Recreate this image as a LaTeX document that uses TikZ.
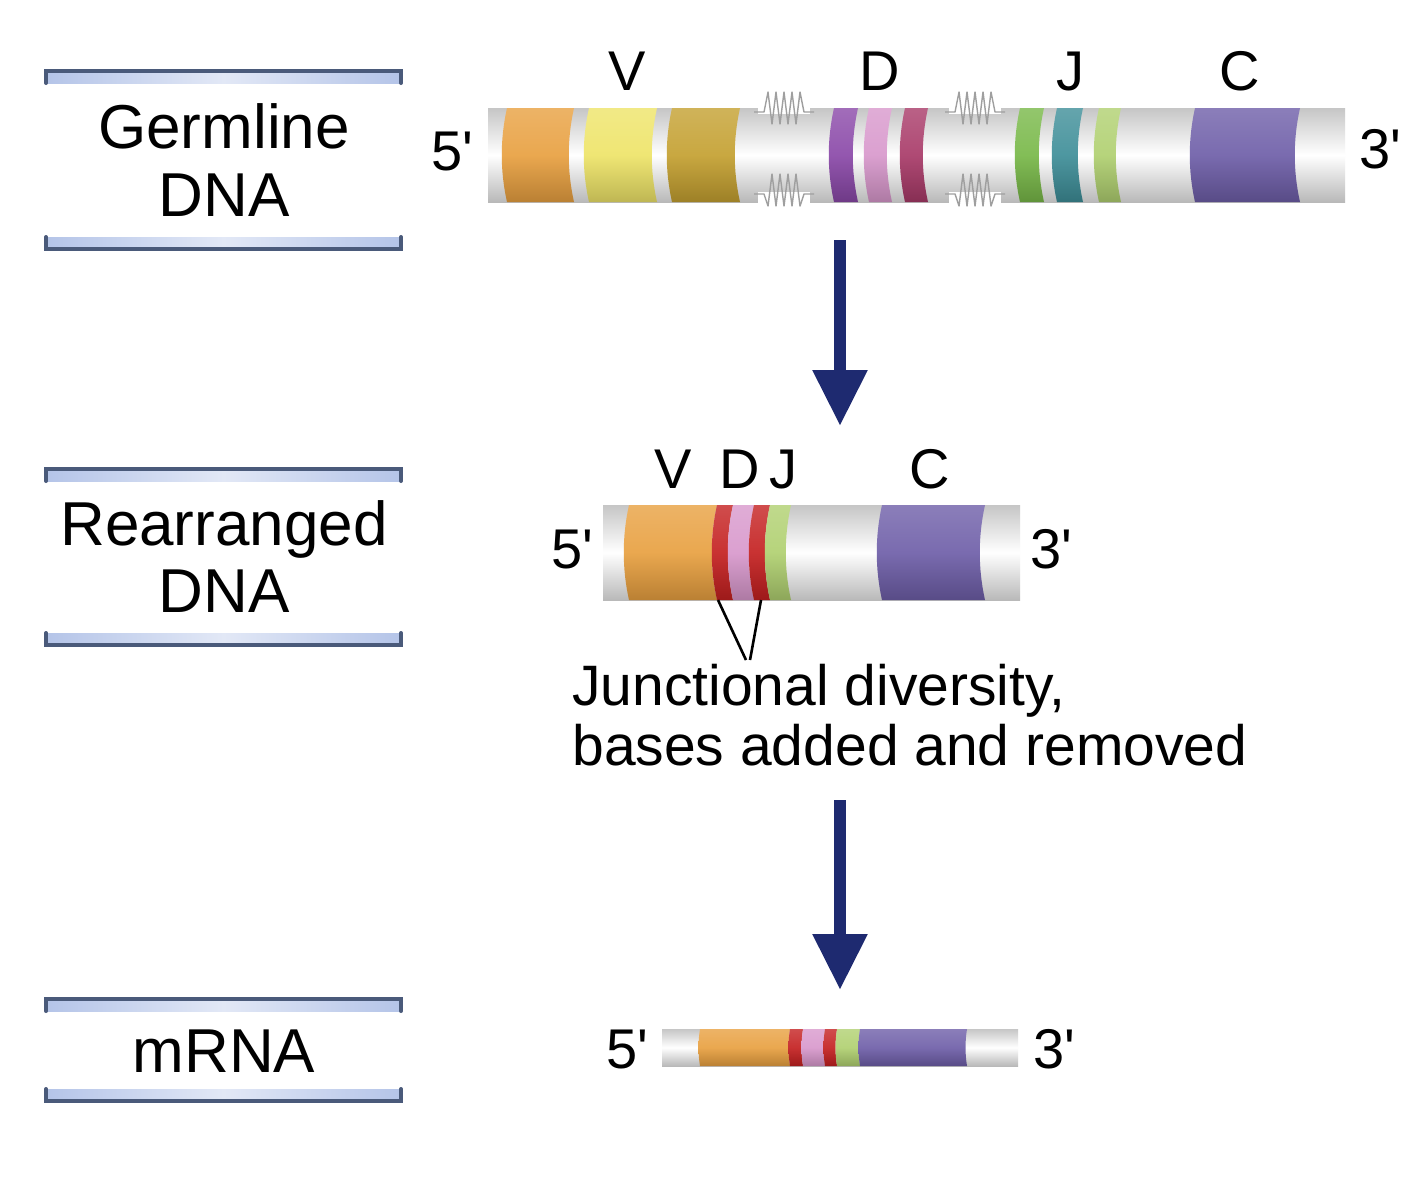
\documentclass[tikz,border=0pt]{standalone}
\usepackage{fontspec}
\setmainfont{Liberation Sans}
\usetikzlibrary{arrows.meta}
\definecolor{cOrange}{HTML}{E8A040}
\definecolor{cYellow}{HTML}{EEE468}
\definecolor{cOlive}{HTML}{C4A030}
\definecolor{cDpurple}{HTML}{8A48A8}
\definecolor{cDpink}{HTML}{D898CC}
\definecolor{cDmag}{HTML}{A83A68}
\definecolor{cJgreen}{HTML}{78B848}
\definecolor{cJteal}{HTML}{3E8E98}
\definecolor{cJlight}{HTML}{B0D070}
\definecolor{cCpurple}{HTML}{6E5EA8}
\definecolor{cRed}{HTML}{C42020}
\definecolor{cNavy}{HTML}{1E2A70}
\definecolor{cBarLine}{HTML}{4A5A7A}
\definecolor{cBarFill}{HTML}{B4C4E8}
\definecolor{cBarMid}{HTML}{E2E8F6}
\newcommand\myq{\textquotesingle}
\newcommand\myband[6]{%
  \pgfmathsetmacro\myBandA{#3+(#4-#3)/3}%
  \pgfmathsetmacro\myBandB{#3+2*(#4-#3)/3}%
  \pgfmathsetmacro\myBandL{#1-#6}%
  \pgfmathsetmacro\myBandR{#2-#6}%
  \shade[top color=#5!80!white, bottom color=#5!80!black, middle color=#5!92!white]
    (#1,#3) .. controls (\myBandL,\myBandA) and (\myBandL,\myBandB) .. (#1,#4)
    -- (#2,#4) .. controls (\myBandR,\myBandB) and (\myBandR,\myBandA) .. (#2,#3) -- cycle;}
\newcommand\mystrand[4]{%
  \shade[top color=gray!45, bottom color=gray!55, middle color=white] (#1,#3) rectangle (#2,#4);}
\newcommand\mytopbar[1]{%
  \shade[left color=cBarFill, right color=cBarFill, middle color=cBarMid] (45,#1) rectangle (402,#1+12);
  \draw[barline] (46,#1+12) -- (46,#1) -- (401,#1) -- (401,#1+12);}
\newcommand\mybotbar[1]{%
  \shade[left color=cBarFill, right color=cBarFill, middle color=cBarMid] (45,#1-12) rectangle (402,#1);
  \draw[barline] (46,#1-12) -- (46,#1) -- (401,#1) -- (401,#1-12);}
\newcommand\myzig[1]{%
  \fill[white] (#1-6,96) rectangle (#1+46,114);
  \fill[white] (#1-6,192) rectangle (#1+46,210);
  \draw[zz] (#1-10,112) -- (#1,112) -- ++(4,-20) -- ++(4,32) -- ++(4,-32) -- ++(4,32) -- ++(4,-32) -- ++(4,32) -- ++(4,-32) -- ++(4,32) -- ++(4,-32) -- ++(4,20) -- ++(10,0);
  \draw[zz] (#1-10,194) -- (#1,194) -- ++(4,12) -- ++(4,-32) -- ++(4,32) -- ++(4,-32) -- ++(4,32) -- ++(4,-32) -- ++(4,32) -- ++(4,-32) -- ++(4,32) -- ++(4,-12) -- ++(10,0);}
\begin{document}
\begin{tikzpicture}[x=0.5pt,y=-0.5pt,
  barline/.style={draw=cBarLine, line width=2pt, line cap=round},
  zz/.style={draw=gray!75, line width=0.7pt, line join=round},
  lbl/.style={font=\fontsize{31}{36}\selectfont, anchor=base, inner sep=0pt},
  seg/.style={font=\fontsize{28}{32}\selectfont, anchor=base, inner sep=0pt},
  note/.style={font=\fontsize{28.5}{32}\selectfont, anchor=base west, inner sep=0pt},
  bigarrow/.style={draw=cNavy, line width=6pt, -{Triangle[width=26pt,length=28pt]}},
  junc/.style={draw=black, line width=1.3pt}]
\fill[white] (0,0) rectangle (1401,1200);
\useasboundingbox (0,0) rectangle (1401,1200);

% ---- side labels
\mytopbar{71}
\mybotbar{249}
\node[lbl] (germ1) at (224,148) {Germline};
\node[lbl] (germ2) at (224,216) {DNA};
\mytopbar{469}
\mybotbar{645}
\node[lbl] (rearr1) at (224,545) {Rearranged};
\node[lbl] (rearr2) at (224,612) {DNA};
\mytopbar{999}
\mybotbar{1101}
\node[lbl] (mrna1) at (224,1072) {mRNA};

% ---- germline DNA
\mystrand{488}{1345}{108}{202}
\myband{507}{574}{108}{202}{cOrange}{7}
\myband{589}{657}{108}{202}{cYellow}{7}
\myband{672}{740}{108}{202}{cOlive}{7}
\myzig{764}
\myband{834}{858}{108}{202}{cDpurple}{7}
\myband{869}{892}{108}{202}{cDpink}{7}
\myband{905}{928}{108}{202}{cDmag}{7}
\myzig{955}
\myband{1020}{1044}{108}{202}{cJgreen}{7}
\myband{1057}{1083}{108}{202}{cJteal}{7}
\myband{1099}{1121}{108}{202}{cJlight}{7}
\myband{1195}{1300}{108}{202}{cCpurple}{7}
\node[seg] (g5) at (452,170) {5\myq};
\node[seg] (g3) at (1380,168) {3\myq};
\node[seg] (gV) at (627,90) {V};
\node[seg] (gD) at (880,90) {D};
\node[seg] (gJ) at (1070,90) {J};
\node[seg] (gC) at (1240,90) {C};

% ---- arrow 1
\coordinate (a1s) at (840,240);
\coordinate (a1e) at (840,426);
\draw[bigarrow] (a1s) -- (a1e);

% ---- rearranged DNA
\mystrand{603}{1020}{505}{600}
\myband{629}{717}{505}{600}{cOrange}{7}
\myband{717}{733}{505}{600}{cRed}{7}
\myband{733}{754}{505}{600}{cDpink}{7}
\myband{754}{770}{505}{600}{cRed}{7}
\myband{770}{791}{505}{600}{cJlight}{7}
\myband{882}{985}{505}{600}{cCpurple}{7}
\node[seg] (r5) at (572,568) {5\myq};
\node[seg] (r3) at (1051,568) {3\myq};
\node[seg] (rV) at (673,488) {V};
\node[seg] (rD) at (740,488) {D};
\node[seg] (rJ) at (783,488) {J};
\node[seg] (rC) at (930,488) {C};

% ---- junction pointer
\coordinate (j1) at (718,600);
\coordinate (j2) at (761,600);
\coordinate (j3) at (746,660);
\coordinate (j4) at (750,660);
\draw[junc] (j1) -- (j3);
\draw[junc] (j2) -- (j4);
\node[note] (jd1) at (572,705) {Junctional diversity,};
\node[note] (jd2) at (572,765) {bases added and removed};

% ---- arrow 2
\coordinate (a2s) at (840,800);
\coordinate (a2e) at (840,990);
\draw[bigarrow] (a2s) -- (a2e);

% ---- mRNA
\mystrand{662}{1018}{1029}{1066}
\myband{700}{790}{1029}{1066}{cOrange}{2}
\myband{790}{803}{1029}{1066}{cRed}{2}
\myband{803}{825}{1029}{1066}{cDpink}{2}
\myband{825}{837}{1029}{1066}{cRed}{2}
\myband{837}{860}{1029}{1066}{cJlight}{2}
\myband{860}{967}{1029}{1066}{cCpurple}{2}
\node[seg] (m5) at (627,1068) {5\myq};
\node[seg] (m3) at (1054,1068) {3\myq};
\end{tikzpicture}
\end{document}
